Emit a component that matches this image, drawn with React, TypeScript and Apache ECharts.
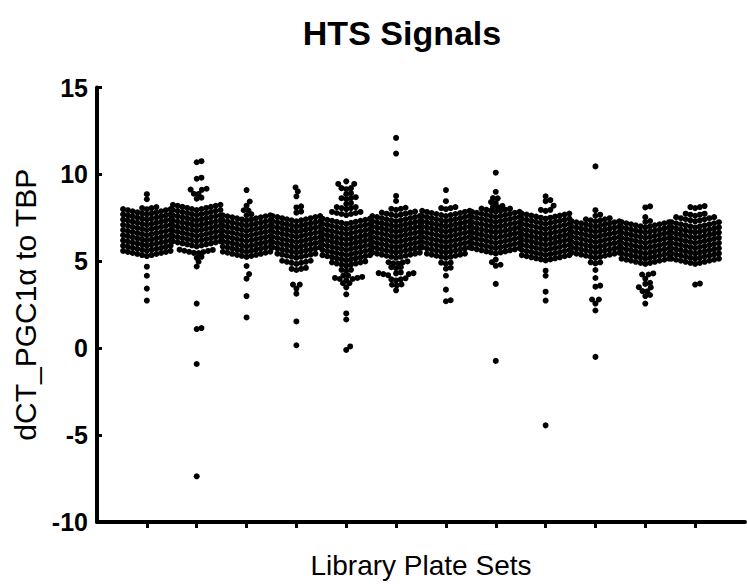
import React, { useEffect, useRef } from "react";
import * as echarts from "echarts";

// Plate-set positions on the x axis (1..12), no labels in the reference
const plateSets = [1, 2, 3, 4, 5, 6, 7, 8, 9, 10, 11, 12];
const yTicks = [-10, -5, 0, 5, 10, 15];

// Each entry: [dCT value, number of wells drawn at that value]
const set1 = [
  [8.86, 1], [8.57, 1], [8.0, 4],
  [7.7, 11], [7.4, 11], [7.1, 11], [6.8, 11], [6.5, 11], [6.2, 11], [5.9, 11], [5.6, 11], [5.3, 11],
  [4.69, 1], [4.17, 1], [3.43, 1], [2.74, 1],
];
const set2 = [
  [10.7, 2], [9.75, 2], [9.05, 3], [8.85, 2], [8.6, 2],
  [7.95, 11], [7.65, 11], [7.35, 11], [7.05, 11], [6.75, 11], [6.45, 11], [6.15, 11], [5.85, 11],
  [5.45, 8], [5.2, 2], [4.95, 1], [4.7, 1], [2.57, 1], [1.1, 2], [-0.91, 1], [-7.37, 1],
];
const set3 = [
  [9.1, 1], [8.4, 1], [8.2, 1], [7.9, 2], [7.65, 2],
  [7.35, 11], [7.05, 11], [6.75, 11], [6.45, 11], [6.15, 11], [5.85, 11], [5.55, 11], [5.25, 11],
  [4.73, 1], [4.23, 1], [4.0, 1], [3.0, 1], [1.77, 1],
];
const set4 = [
  [9.24, 1], [9.0, 1], [8.74, 1], [8.1, 2], [7.8, 2],
  [7.3, 11], [7.0, 11], [6.7, 11], [6.4, 11], [6.1, 11], [5.8, 11], [5.5, 11],
  [5.2, 9], [4.85, 7], [4.5, 4], [3.62, 2], [3.43, 1], [3.14, 1], [1.54, 1], [0.17, 1],
];
const set5 = [
  [9.6, 1], [9.35, 2], [9.15, 3], [8.86, 2], [8.57, 4], [8.29, 2], [8.0, 5], [7.66, 7],
  [7.15, 11], [6.85, 11], [6.55, 11], [6.25, 11], [5.95, 11], [5.65, 11], [5.35, 11], [5.05, 11],
  [4.75, 8], [4.45, 3], [4.15, 2], [3.9, 6], [3.7, 2], [3.5, 1], [3.1, 1], [2.0, 1], [1.65, 1],
  [0.05, 1], [-0.1, 1],
];
const set6 = [
  [12.1, 1], [11.2, 1], [8.76, 1], [8.47, 1], [7.96, 4], [7.62, 8],
  [7.3, 11], [7.0, 11], [6.7, 11], [6.4, 11], [6.1, 11], [5.8, 11], [5.5, 11],
  [5.2, 11], [4.85, 5], [4.6, 3], [4.3, 2], [4.1, 5], [3.9, 4], [3.6, 3], [3.33, 1],
];
const set7 = [
  [9.1, 1], [8.46, 1], [8.0, 4],
  [7.6, 11], [7.3, 11], [7.0, 11], [6.7, 11], [6.4, 11], [6.1, 11], [5.8, 11], [5.5, 11],
  [5.2, 9], [4.86, 3], [4.57, 2], [4.17, 1], [3.37, 1], [2.7, 2],
];
const set8 = [
  [10.1, 1], [9.0, 1], [8.6, 2], [8.35, 2], [8.1, 3], [7.85, 7],
  [7.55, 11], [7.25, 11], [6.95, 11], [6.65, 11], [6.35, 11], [6.05, 11], [5.75, 11], [5.45, 11],
  [5.1, 1], [4.9, 1], [4.74, 2], [3.7, 1], [-0.73, 1],
];
const set9 = [
  [8.74, 1], [8.46, 2], [8.1, 1], [7.9, 3],
  [7.45, 11], [7.15, 11], [6.85, 11], [6.55, 11], [6.25, 11], [5.95, 11], [5.65, 11], [5.35, 11],
  [5.05, 11], [4.46, 1], [4.17, 1], [3.25, 1], [2.74, 1], [-4.44, 1],
];
const set10 = [
  [10.46, 1], [7.94, 1], [7.62, 2], [7.3, 6],
  [7.0, 11], [6.7, 11], [6.4, 11], [6.1, 11], [5.8, 11], [5.5, 11], [5.2, 11],
  [4.88, 3], [4.5, 1], [4.04, 1], [3.54, 2], [2.76, 2], [2.57, 1], [2.17, 1], [-0.5, 1],
];
const set11 = [
  [8.1, 2], [7.54, 1], [7.26, 2],
  [6.95, 11], [6.65, 11], [6.35, 11], [6.05, 11], [5.75, 11], [5.45, 11], [5.15, 11], [4.85, 11],
  [4.2, 3], [4.0, 1], [3.7, 2], [3.43, 2], [3.25, 2], [3.0, 2], [2.57, 1],
];
const set12 = [
  [8.06, 4], [7.62, 5], [7.3, 9],
  [6.95, 11], [6.65, 11], [6.35, 11], [6.05, 11], [5.75, 11], [5.45, 11], [5.15, 11], [4.85, 11],
  [3.66, 2],
];
const allSets = [set1, set2, set3, set4, set5, set6, set7, set8, set9, set10, set11, set12];

const W = 747;
const H = 584;
const GRID = { left: 97, right: 2, top: 87.5, bottom: 61 };
const X_MIN = 0;
const X_MAX = 13;
const Y_MIN = -10;
const Y_MAX = 15;
const DOT = 6;
const GAP = 4.75;
const CHEVRON = 0.22;

// Prism-style column scatter: lower values placed nearest the centre
function swarm(rows: number[][], pxPerX: number, pxPerY: number) {
  const vals: number[] = [];
  rows.forEach(([v, c]) => {
    for (let i = 0; i < c; i++) vals.push(v);
  });
  vals.sort((a, b) => a - b);
  const placed: { x: number; y: number }[] = [];
  const out: { dx: number; v: number; px: number }[] = [];
  for (const v of vals) {
    const y = v * pxPerY;
    const blocks: [number, number][] = [];
    for (const p of placed) {
      const dy = Math.abs(p.y - y);
      if (dy < GAP) {
        const w = Math.sqrt(GAP * GAP - dy * dy);
        blocks.push([p.x - w, p.x + w]);
      }
    }
    const cands = [0];
    blocks.forEach(([a, b]) => cands.push(a, b));
    cands.sort((a, b) => Math.abs(a) - Math.abs(b) || b - a);
    let x = 0;
    for (const c of cands) {
      if (blocks.every(([a, b]) => c <= a + 1e-6 || c >= b - 1e-6)) {
        x = c;
        break;
      }
    }
    placed.push({ x, y });
    out.push({ dx: x / pxPerX, v, px: x });
  }
  return out;
}

export default function App() {
  const ref = useRef<HTMLDivElement>(null);
  useEffect(() => {
    if (!ref.current) return;
    const chart = echarts.init(ref.current, undefined, { renderer: "svg" });
    const pxPerX = (W - GRID.left - GRID.right) / (X_MAX - X_MIN);
    const pxPerY = (H - GRID.top - GRID.bottom) / (Y_MAX - Y_MIN);
    const data: any[] = [];
    allSets.forEach((rows, i) => {
      const col = plateSets[i];
      swarm(rows, pxPerX, pxPerY).forEach((p) => {
        data.push({
          value: [col + p.dx, p.v],
          symbolOffset: [0, -Math.abs(p.px) * CHEVRON],
        });
      });
    });
    const font = "'Liberation Sans', Arial, sans-serif";
    chart.setOption({
      animation: false,
      backgroundColor: "#ffffff",
      title: {
        text: "HTS Signals",
        left: 397,
        textAlign: "center",
        top: 11,
        textStyle: { fontFamily: font, fontSize: 34, fontWeight: "bold", color: "#000" },
      },
      grid: { ...GRID },
      xAxis: {
        type: "value",
        min: X_MIN,
        max: X_MAX,
        name: "Library Plate Sets",
        nameLocation: "middle",
        nameGap: 29,
        nameTextStyle: { fontFamily: font, fontSize: 28, color: "#000" },
        axisLine: { onZero: false, lineStyle: { color: "#000", width: 4 } },
        axisTick: {
          show: true,
          inside: false,
          length: 6,
          customValues: plateSets,
          lineStyle: { color: "#000", width: 3 },
        },
        axisLabel: { show: false },
        splitLine: { show: false },
      },
      yAxis: {
        type: "value",
        min: Y_MIN,
        max: Y_MAX,
        interval: 5,
        name: "dCT_PGC1\u03b1 to TBP",
        nameLocation: "middle",
        nameGap: 57,
        nameTextStyle: { fontFamily: font, fontSize: 30, color: "#000" },
        axisLine: { show: true, onZero: false, lineStyle: { color: "#000", width: 4 } },
        axisTick: { show: true, inside: true, length: 5, lineStyle: { color: "#000", width: 3 } },
        axisLabel: {
          fontFamily: font,
          fontSize: 25,
          fontWeight: "bold",
          color: "#000",
          margin: 9,
          customValues: yTicks,
        },
        splitLine: { show: false },
      },
      series: [
        {
          type: "scatter",
          symbol: "circle",
          symbolSize: DOT,
          itemStyle: { color: "#000", opacity: 1 },
          emphasis: { disabled: true },
          data,
        },
      ],
    });
    return () => chart.dispose();
  }, []);
  return (
    <div
      ref={ref}
      style={{ position: "fixed", left: 0, top: 0, width: W, height: H, background: "#fff" }}
    />
  );
}
